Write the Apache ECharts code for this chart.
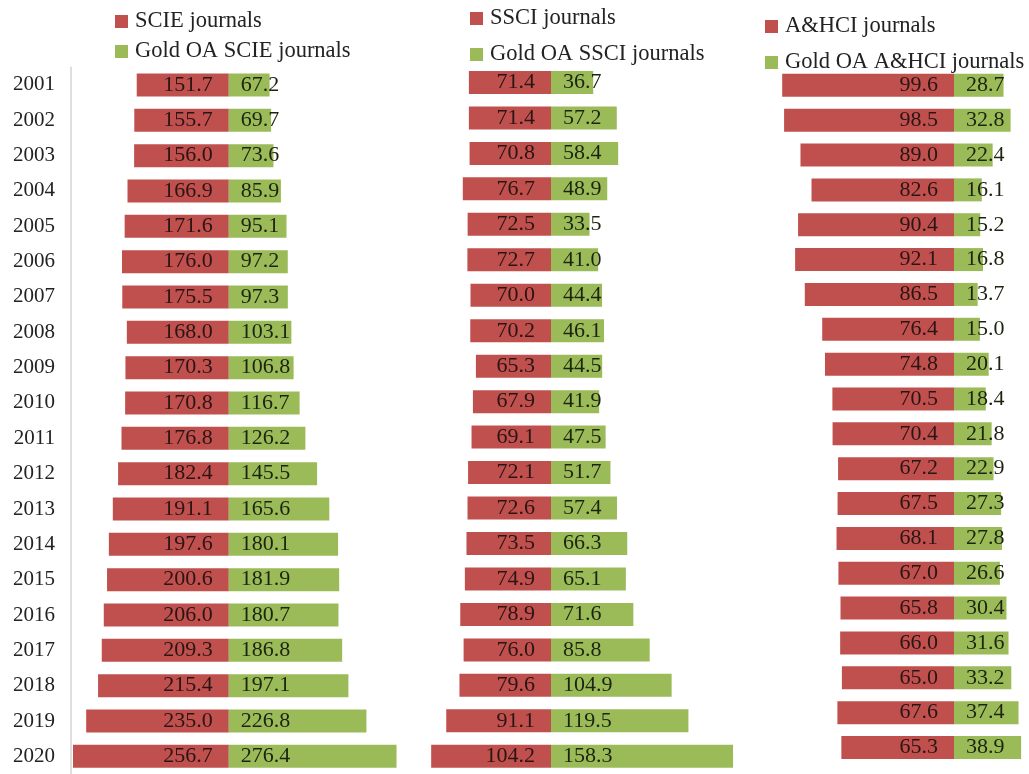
<!DOCTYPE html>
<html>
<head>
<meta charset="utf-8">
<script src="https://cdn.jsdelivr.net/npm/echarts@6/dist/echarts.min.js"></script>
<style>html,body{margin:0;padding:0;background:#fff}#c{width:1029px;height:774px}</style>
</head>
<body>
<div id="c"></div>
<script>
const years = ['2001','2002','2003','2004','2005','2006','2007','2008','2009','2010','2011','2012','2013','2014','2015','2016','2017','2018','2019','2020'];
const scie = [151.7,155.7,156.0,166.9,171.6,176.0,175.5,168.0,170.3,170.8,176.8,182.4,191.1,197.6,200.6,206.0,209.3,215.4,235.0,256.7];
const goldScie = [67.2,69.7,73.6,85.9,95.1,97.2,97.3,103.1,106.8,116.7,126.2,145.5,165.6,180.1,181.9,180.7,186.8,197.1,226.8,276.4];
const ssci = [71.4,71.4,70.8,76.7,72.5,72.7,70.0,70.2,65.3,67.9,69.1,72.1,72.6,73.5,74.9,78.9,76.0,79.6,91.1,104.2];
const goldSsci = [36.7,57.2,58.4,48.9,33.5,41.0,44.4,46.1,44.5,41.9,47.5,51.7,57.4,66.3,65.1,71.6,85.8,104.9,119.5,158.3];
const ahci = [99.6,98.5,89.0,82.6,90.4,92.1,86.5,76.4,74.8,70.5,70.4,67.2,67.5,68.1,67.0,65.8,66.0,65.0,67.6,65.3];
const goldAhci = [28.7,32.8,22.4,16.1,15.2,16.8,13.7,15.0,20.1,18.4,21.8,22.9,27.3,27.8,26.6,30.4,31.6,33.2,37.4,38.9];
const seriesNames = [
  ['SCIE journals','Gold OA SCIE journals'],
  ['SSCI journals','Gold OA SSCI journals'],
  ['A&HCI journals','Gold OA A&HCI journals']
];

const RED = '#c0504d', GREEN = '#9bbb59';
const FONT = 'Liberation Serif';
const panels = [
  {left:71, width:352, top:67.3, height:708, min:-260, max:320, red:scie, green:goldScie, legend:{left:110, top:5, gap:7}, showYears:true},
  {left:419.9, width:338.1, top:64.75, height:710, min:-114, max:180, red:ssci, green:goldSsci, legend:{left:465, top:2, gap:13}, showYears:false},
  {left:760.8, width:267.4, top:67.9, height:697, min:-112, max:43, red:ahci, green:goldAhci, legend:{left:760, top:10, gap:13}, showYears:false}
];

const grid=[], xAxis=[], yAxis=[], series=[], legend=[];
panels.forEach((p,i)=>{
  grid.push({left:p.left, top:p.top, width:p.width, height:p.height, containLabel:false});
  xAxis.push({type:'value', gridIndex:i, min:p.min, max:p.max, show:false});
  yAxis.push({type:'category', gridIndex:i, data:years, inverse:true,
    axisLine:{show:p.showYears, onZero:false, lineStyle:{color:'#d4d4d4', width:1.5}},
    axisTick:{show:false},
    axisLabel:{show:p.showYears, margin:16, color:'#222', fontFamily:FONT, fontSize:21},
    splitLine:{show:false}});
  series.push({name:seriesNames[i][0], type:'bar', xAxisIndex:i, yAxisIndex:i,
    data:p.red.map(v=>-v), barWidth:23, barGap:'-100%', itemStyle:{color:RED},
    label:{show:true, position:'insideRight', distance:16, color:'#2a1515', fontFamily:FONT, fontSize:22,
      formatter:d=>Math.abs(d.value).toFixed(1)}});
  series.push({name:seriesNames[i][1], type:'bar', xAxisIndex:i, yAxisIndex:i,
    data:p.green.slice(), barWidth:23, barGap:'-100%', itemStyle:{color:GREEN},
    label:{show:true, position:'insideLeft', distance:12, color:'#1c2410', fontFamily:FONT, fontSize:22,
      formatter:d=>d.value.toFixed(1)}});
  legend.push({data:seriesNames[i], left:p.legend.left, top:p.legend.top, orient:'vertical',
    itemWidth:13, itemHeight:13, itemGap:p.legend.gap, icon:'rect',
    textStyle:{fontFamily:FONT, fontSize:22.5, color:'#222', padding:[0,0,0,2]}, selectedMode:false});
});

const chart = echarts.init(document.getElementById('c'), null, {renderer:'canvas'});
chart.setOption({animation:false, backgroundColor:'#fff', grid, xAxis, yAxis, series, legend});
</script>
</body>
</html>
